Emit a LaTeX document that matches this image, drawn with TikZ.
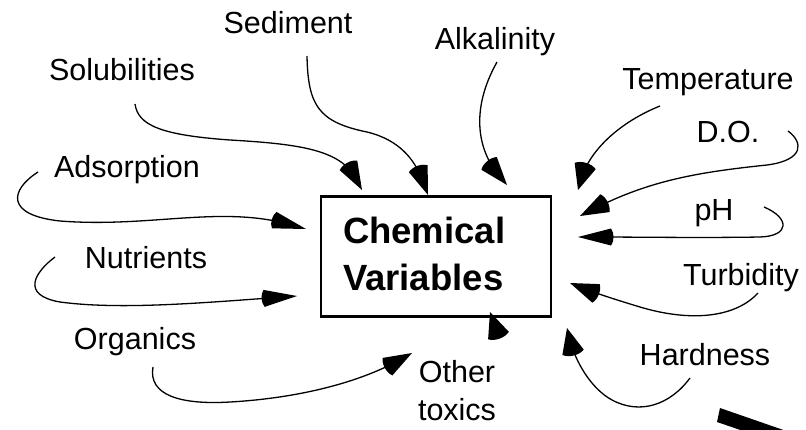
\documentclass[tikz,border=0pt]{standalone}
\usepackage{fontspec}
\setmainfont{Liberation Sans}
\usetikzlibrary{arrows.meta}

% Filled arrow head with a rounded back
\pgfdeclarearrow{
  name = Fan,
  parameters = {\the\pgfarrowlength,\the\pgfarrowwidth},
  setup code = {
    \pgfarrowssettipend{0pt}
    \pgfarrowssetlineend{-0.5\pgfarrowlength}
    \pgfarrowssetbackend{-1.1\pgfarrowlength}
    \pgfarrowssavethe\pgfarrowlength
    \pgfarrowssavethe\pgfarrowwidth
  },
  drawing code = {
    \pgfpathmoveto{\pgfpointorigin}
    \pgfpathlineto{\pgfpoint{-\pgfarrowlength}{0.5*\pgfarrowwidth}}
    \pgfpathcurveto
      {\pgfpoint{-\pgfarrowlength-0.2*\pgfarrowwidth}{0.25*\pgfarrowwidth}}
      {\pgfpoint{-\pgfarrowlength-0.2*\pgfarrowwidth}{-0.25*\pgfarrowwidth}}
      {\pgfpoint{-\pgfarrowlength}{-0.5*\pgfarrowwidth}}
    \pgfpathclose
    \pgfusepathqfill
  },
  defaults = {length=28pt, width=20pt}
}

\tikzset{
  lbl/.style={font=\fontsize{30.5}{36}\selectfont, inner sep=0pt, anchor=base},
  feed/.style={line width=1.3pt, -{Fan[length=28pt,width=20pt]}},
  feedh/.style={line width=1.3pt, -{Fan[length=33pt,width=17pt]}},
  feedv/.style={line width=1.3pt, -{Fan[length=25pt,width=22pt]}},
  mainbox/.style={draw, line width=2.5pt, minimum width=230pt, minimum height=120pt,
    inner xsep=22pt, inner ysep=0pt, text width=186pt, align=left, text depth=53pt,
    font=\bfseries\fontsize{36.5}{47}\selectfont}
}

\begin{document}
\begin{tikzpicture}[x=1pt, y=-1pt]
\useasboundingbox (0,0) rectangle (806,429);

% central box
\node[mainbox] (cv) at (436,256.5) {Chemical\\Variables};

% factor labels
\node[lbl] (sed) at (288,33)  {Sediment};
\node[lbl] (sol) at (122,80)  {Solubilities};
\node[lbl] (alk) at (495,49)  {Alkalinity};
\node[lbl] (tem) at (708,89)  {Temperature};
\node[lbl] (do)  at (728,142) {D.O.};
\node[lbl] (ph)  at (714,220) {pH};
\node[lbl] (tur) at (741,285) {Turbidity};
\node[lbl] (har) at (705,365) {Hardness};
\node[lbl, anchor=center, align=center, font=\fontsize{30.5}{38}\selectfont]
  (oth) at (457,391) {Other\\toxics};
\node[lbl] (org) at (135,349) {Organics};
\node[lbl] (nut) at (146,268) {Nutrients};
\node[lbl] (ads) at (127,177) {Adsorption};

% connector ends
\coordinate (sed-t) at (307,56);   \coordinate (sed-h) at (428,195);
\coordinate (sol-t) at (135,104);  \coordinate (sol-h) at (362,190);
\coordinate (alk-t) at (497,62);   \coordinate (alk-h) at (507,185);
\coordinate (tem-t) at (660,106);  \coordinate (tem-h) at (578,190);
\coordinate (do-t)  at (788,131);  \coordinate (do-h)  at (580,216);
\coordinate (ph-t)  at (764,207);  \coordinate (ph-h)  at (578,237);
\coordinate (tur-t) at (758,293);  \coordinate (tur-h) at (570,283);
\coordinate (har-t) at (690,378);  \coordinate (har-h) at (567,328);
\coordinate (oth-t) at (499,337);  \coordinate (oth-h) at (490,312);
\coordinate (org-t) at (153,367);  \coordinate (org-h) at (412,353);
\coordinate (nut-t) at (55,257);   \coordinate (nut-h) at (297,296);
\coordinate (ads-t) at (38,172);   \coordinate (ads-h) at (306,229);

% curved connectors into the box
\draw[feed]  (sed-t) .. controls (308,105) and (318,122) .. (367,132)
                     .. controls (400,140) and (415,160) .. (sed-h);
\draw[feed]  (sol-t) .. controls (138,125) and (160,135) .. (230,140)
                     .. controls (300,144) and (340,150) .. (sol-h);
\draw[feed]  (alk-t) .. controls (470,110) and (478,150) .. (alk-h);
\draw[feedv] (tem-t) .. controls (620,122) and (590,150) .. (tem-h);
\draw[feed]  (do-t)  .. controls (803,142) and (805,160) .. (767,165)
                     .. controls (700,172) and (650,180) .. (do-h);
\draw[feedh] (ph-t)  .. controls (790,218) and (790,236) .. (760,237)
                     .. controls (700,238) and (640,237) .. (ph-h);
\draw[feed]  (tur-t) .. controls (735,318) and (690,322) .. (640,307)
                     .. controls (610,298) and (590,291) .. (tur-h);
\draw[feedv] (har-t) .. controls (670,405) and (640,415) .. (612,400)
                     .. controls (590,388) and (575,360) .. (har-h);
\draw[feedv] (oth-t) -- (oth-h);
\draw[feed]  (org-t) .. controls (148,395) and (180,405) .. (230,402)
                     .. controls (300,398) and (360,382) .. (org-h);
\draw[feedh] (nut-t) .. controls (35,272) and (20,295) .. (60,302)
                     .. controls (120,310) and (200,303) .. (nut-h);
\draw[feedh] (ads-t) .. controls (10,190) and (5,215) .. (60,221)
                     .. controls (150,228) and (220,205) .. (ads-h);

% heavy bar leaving the lower right corner
\begin{scope}
  \clip (0,0) rectangle (806,429);
  \fill (720,408) -- (870,460) -- (866,473) -- (717,422) -- cycle;
\end{scope}
\end{tikzpicture}
\end{document}
